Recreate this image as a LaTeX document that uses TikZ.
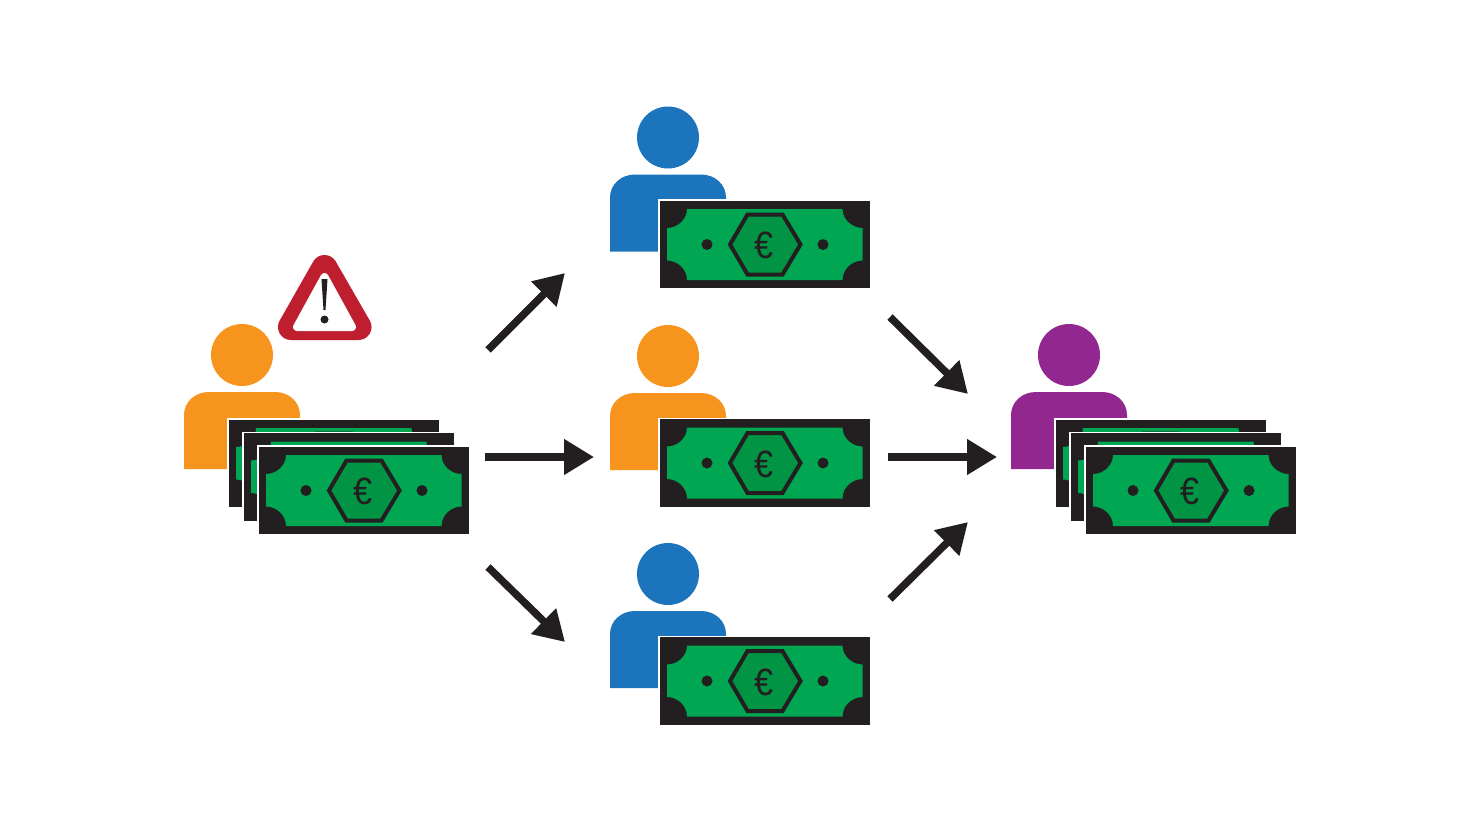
\documentclass[tikz,border=0pt]{standalone}
\usepackage{fontspec}
\setmainfont{Liberation Sans}
\usetikzlibrary{arrows.meta}
\definecolor{cblue}{HTML}{1C75BC}
\definecolor{corange}{HTML}{F7941D}
\definecolor{cpurple}{HTML}{92278F}
\definecolor{cgreen}{HTML}{00A651}
\definecolor{cdgreen}{HTML}{009444}
\definecolor{cblack}{HTML}{231F20}
\definecolor{cred}{HTML}{BE1E2D}
\newcommand{\notebody}{%
    \fill[white] (-1.5,-1.5) rectangle (212,89);
    \fill[cblack] (0,0) rectangle (210.5,87.5);
    \fill[cgreen] (27.5,8.5) -- (183,8.5) .. controls (183,19.5) and (193,27.5) .. (203,27.5)
      -- (203,60) .. controls (193,60) and (183,68) .. (183,79.5)
      -- (27.5,79.5) .. controls (27.5,68) and (17.5,60) .. (7.5,60)
      -- (7.5,27.5) .. controls (17.5,27.5) and (27.5,19.5) .. (27.5,8.5) -- cycle;
    \filldraw[fill=cdgreen,draw=cblack,line width=4pt,line join=miter]
      (70.5,44) -- (88,14) -- (123,14) -- (141,44) -- (123,74) -- (88,74) -- cycle;
    \fill[cblack] (47.5,44) circle (5.5) (163.5,44) circle (5.5);
}
\tikzset{
  flow/.style={draw=cblack,line width=7.5pt,-{Triangle[length=30pt,width=34pt]}},
  pics/person/.style={code={
    \fill[#1] (0,0) circle (31);
    \fill[#1] (-58,114) -- (-58,60) .. controls (-58,47) and (-47,37) .. (-33,37)
      -- (33,37) .. controls (47,37) and (58,47) .. (58,60) -- (58,114) -- cycle;
  }},
  pics/backnote/.style={code={\notebody}},
  pics/banknote/.style={code={
    \notebody
    \node[text=cblack,font=\fontsize{38}{38}\selectfont,inner sep=0pt,xscale=.9] (-eur) at (104.5,45) {€};
  }},
}
\begin{document}
\begin{tikzpicture}[x=1pt,y=-1pt]
\useasboundingbox (0,0) rectangle (1484,835);
\fill[white] (0,0) rectangle (1484,835);
% left
\pic (pa) at (242,355) {person={corange}};
\pic (na1) at (228.5,419.5) {backnote};
\pic (na2) at (243.5,433) {backnote};
\pic (na3) at (258.5,446.5) {banknote};
% warning
\filldraw[fill=cred,draw=cred,line width=26pt,line join=round] (324.5,268) -- (291,327) -- (358.5,327) -- cycle;
\filldraw[fill=white,draw=white,line width=8pt,line join=round] (324.5,277) -- (297,327) -- (352,327) -- cycle;
\fill[cblack] (321.5,279) -- (327.5,279) -- (325.5,310) -- (323.5,310) -- cycle;
\fill[cblack] (324.5,319.5) circle (4);
% middle
\pic (pb) at (668,137.5) {person={cblue}};
\pic (nb) at (659.5,200.5) {banknote};
\pic (pc) at (668,356) {person={corange}};
\pic (nc) at (659.5,419) {banknote};
\pic (pd) at (668,574) {person={cblue}};
\pic (nd) at (659.5,637) {banknote};
% right
\pic (pe) at (1069,355) {person={cpurple}};
\pic (ne1) at (1055.5,419.5) {backnote};
\pic (ne2) at (1070.5,433) {backnote};
\pic (ne3) at (1085.5,446.5) {banknote};
% arrows
\coordinate (a1s) at (488,350); \coordinate (a1e) at (565,273);
\coordinate (a2s) at (485,457); \coordinate (a2e) at (594,457);
\coordinate (a3s) at (488,567); \coordinate (a3e) at (565,642);
\coordinate (b1s) at (890,317); \coordinate (b1e) at (968,394);
\coordinate (b2s) at (888,457); \coordinate (b2e) at (997,457);
\coordinate (b3s) at (890,599); \coordinate (b3e) at (968,522);
\draw[flow] (a1s) -- (a1e);
\draw[flow] (a2s) -- (a2e);
\draw[flow] (a3s) -- (a3e);
\draw[flow] (b1s) -- (b1e);
\draw[flow] (b2s) -- (b2e);
\draw[flow] (b3s) -- (b3e);
\end{tikzpicture}
\end{document}
